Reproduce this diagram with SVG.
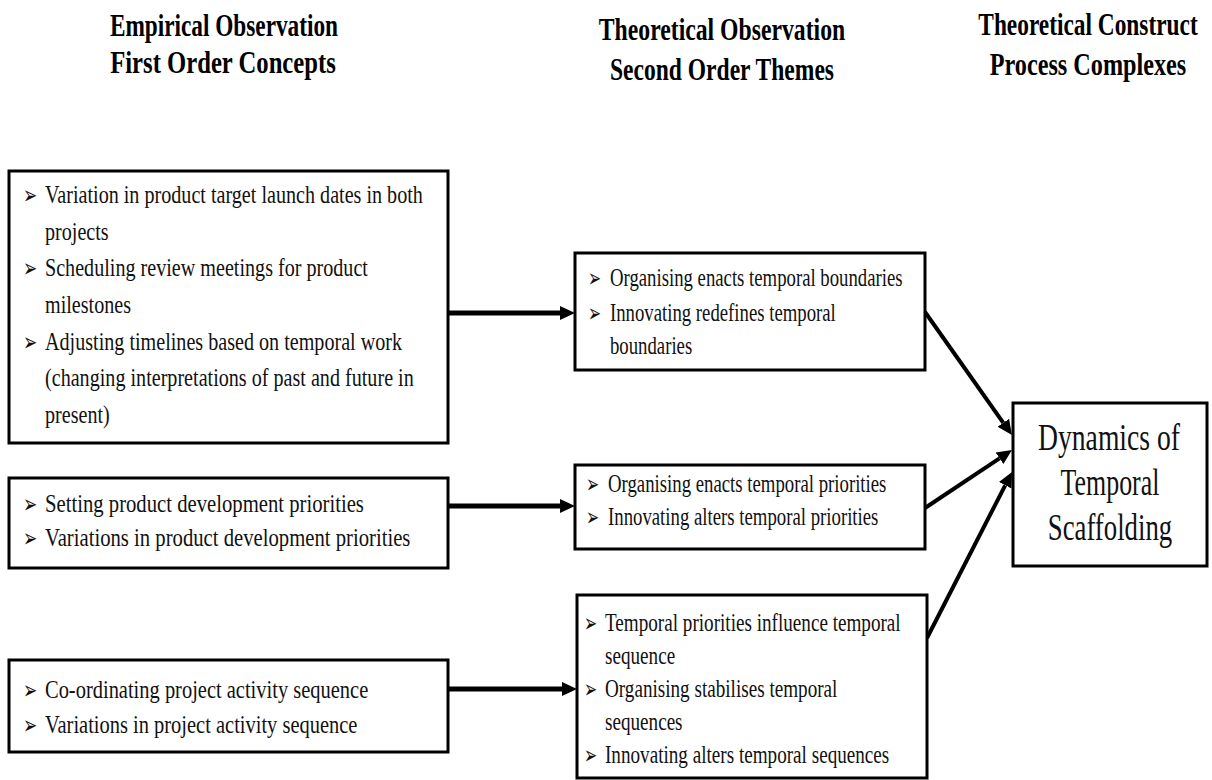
<svg xmlns="http://www.w3.org/2000/svg" width="1212" height="780" viewBox="0 0 1212 780">
<style>
.box{fill:#fff;stroke:#000;stroke-width:3}
.t{font-family:"Liberation Serif","Times New Roman",serif;font-size:25px;fill:#111}
.b{font-family:"DejaVu Sans","Noto Sans",sans-serif;font-size:26px;fill:#111}
.h{font-family:"Liberation Serif","Times New Roman",serif;font-size:32px;font-weight:bold;fill:#000;text-anchor:middle}
.big{font-family:"Liberation Serif","Times New Roman",serif;font-size:37px;fill:#111;text-anchor:middle}
.c{stroke:#000;stroke-width:5;fill:none}
.d{stroke:#000;stroke-width:4;fill:none}
</style>
<defs>
<marker id="ah" markerUnits="userSpaceOnUse" markerWidth="17" markerHeight="17" refX="0" refY="8.5" orient="auto">
<path d="M0,1.5 L15,8.5 L0,15.5 z" fill="#000"/>
</marker>
</defs>
<rect width="1212" height="780" fill="#fff"/>
<g id="headers">
<text class="h" transform="translate(224,36) scale(0.727,1)">Empirical Observation</text>
<text class="h" transform="translate(223,73) scale(0.771,1)">First Order Concepts</text>
<text class="h" transform="translate(722,40) scale(0.741,1)">Theoretical Observation</text>
<text class="h" transform="translate(722,80) scale(0.736,1)">Second Order Themes</text>
<text class="h" transform="translate(1088,35) scale(0.73,1)">Theoretical Construct</text>
<text class="h" transform="translate(1088,75) scale(0.757,1)">Process Complexes</text>
</g>
<g id="connectors">
<line class="c" x1="448" y1="313" x2="560" y2="313" marker-end="url(#ah)"/>
<line class="c" x1="449" y1="506" x2="560" y2="506" marker-end="url(#ah)"/>
<line class="c" x1="449" y1="689" x2="562" y2="689" marker-end="url(#ah)"/>
<line class="d" x1="925" y1="312" x2="1003.3" y2="422.8" marker-end="url(#ah)"/>
<line class="d" x1="925" y1="508" x2="999.5" y2="458.3" marker-end="url(#ah)"/>
<line class="d" x1="927" y1="638" x2="1005.2" y2="485.3" marker-end="url(#ah)"/>
</g>
<g id="box1">
<rect class="box" x="9" y="171" width="439" height="272"/>
<text class="b" transform="translate(23,204) scale(0.65,1)">➢</text>
<text class="b" transform="translate(23,277) scale(0.65,1)">➢</text>
<text class="b" transform="translate(23,351) scale(0.65,1)">➢</text>
<g transform="translate(45,0) scale(0.805,1)">
<text class="t" x="0" y="203">Variation in product target launch dates in both</text>
<text class="t" x="0" y="240">projects</text>
<text class="t" x="0" y="276">Scheduling review meetings for product</text>
<text class="t" x="0" y="313">milestones</text>
<text class="t" x="0" y="350">Adjusting timelines based on temporal work</text>
<text class="t" x="0" y="386">(changing interpretations of past and future in</text>
<text class="t" x="0" y="423">present)</text>
</g>
</g>
<g id="box2">
<rect class="box" x="9" y="478" width="439" height="90"/>
<text class="b" transform="translate(23,513) scale(0.65,1)">➢</text>
<text class="b" transform="translate(23,547) scale(0.65,1)">➢</text>
<g transform="translate(45,0) scale(0.828,1)">
<text class="t" x="0" y="512">Setting product development priorities</text>
<text class="t" x="0" y="546">Variations in product development priorities</text>
</g>
</g>
<g id="box3">
<rect class="box" x="9" y="660" width="439" height="92"/>
<text class="b" transform="translate(23,699) scale(0.65,1)">➢</text>
<text class="b" transform="translate(23,734) scale(0.65,1)">➢</text>
<g transform="translate(45,0) scale(0.819,1)">
<text class="t" x="0" y="698">Co-ordinating project activity sequence</text>
<text class="t" x="0" y="733">Variations in project activity sequence</text>
</g>
</g>
<g id="mid1">
<rect class="box" x="575" y="253" width="350" height="117"/>
<text class="b" transform="translate(588,287) scale(0.6,1)">➢</text>
<text class="b" transform="translate(588,322) scale(0.6,1)">➢</text>
<g transform="translate(610,0) scale(0.75,1)">
<text class="t" x="0" y="286">Organising enacts temporal boundaries</text>
<text class="t" x="0" y="321">Innovating redefines temporal</text>
<text class="t" x="0" y="354">boundaries</text>
</g>
</g>
<g id="mid2">
<rect class="box" x="575" y="465" width="350" height="84"/>
<text class="b" transform="translate(586,493) scale(0.6,1)">➢</text>
<text class="b" transform="translate(586,526) scale(0.6,1)">➢</text>
<g transform="translate(608,0) scale(0.751,1)">
<text class="t" x="0" y="492">Organising enacts temporal priorities</text>
<text class="t" x="0" y="525">Innovating alters temporal priorities</text>
</g>
</g>
<g id="mid3">
<rect class="box" x="577" y="595" width="350" height="183"/>
<text class="b" transform="translate(584,632) scale(0.6,1)">➢</text>
<text class="b" transform="translate(584,698) scale(0.6,1)">➢</text>
<text class="b" transform="translate(584,764) scale(0.6,1)">➢</text>
<g transform="translate(605,0) scale(0.766,1)">
<text class="t" x="0" y="631">Temporal priorities influence temporal</text>
<text class="t" x="0" y="664">sequence</text>
<text class="t" x="0" y="697">Organising stabilises temporal</text>
<text class="t" x="0" y="730">sequences</text>
<text class="t" x="0" y="763">Innovating alters temporal sequences</text>
</g>
</g>
<g id="outcome">
<rect class="box" x="1013" y="403" width="194" height="163"/>
<text class="big" transform="translate(1109,450) scale(0.747,1)">Dynamics of</text>
<text class="big" transform="translate(1110,495) scale(0.70,1)">Temporal</text>
<text class="big" transform="translate(1110,540) scale(0.724,1)">Scaffolding</text>
</g>
</svg>
